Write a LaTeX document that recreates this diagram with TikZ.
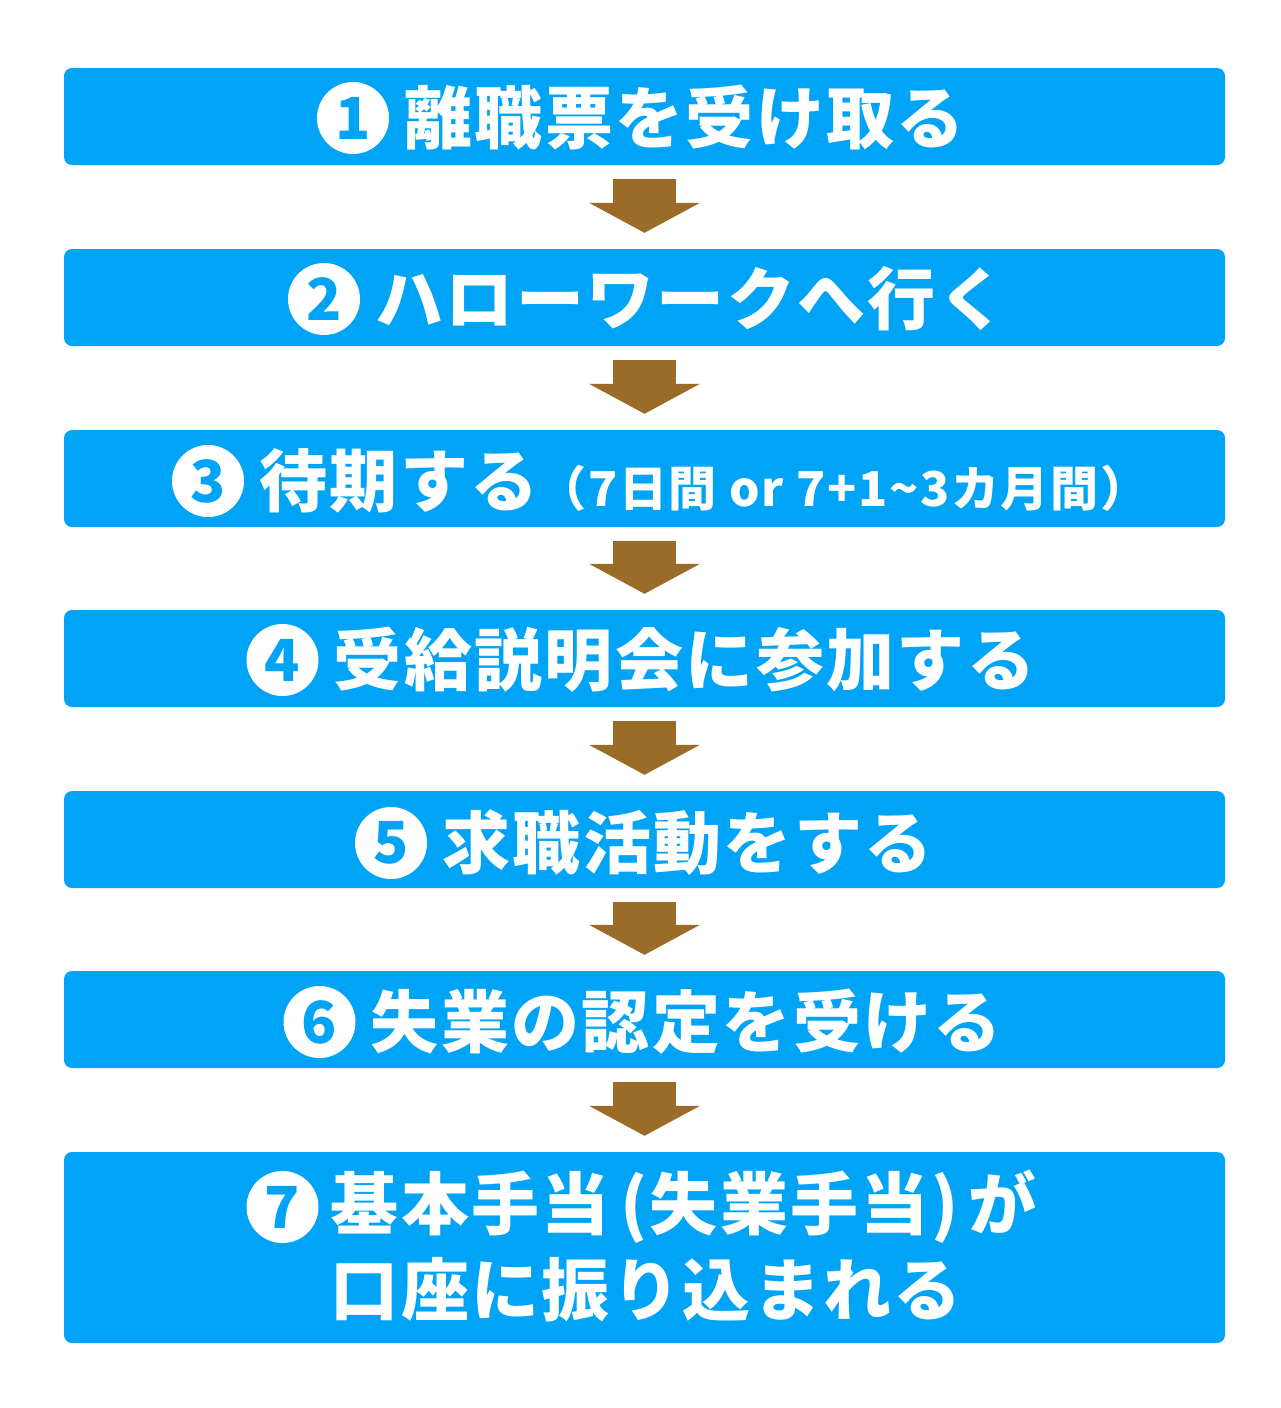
\documentclass[tikz,border=0pt]{standalone}
\usepackage{fontspec}
\setmainfont{Noto Sans CJK JP}
\newfontfamily\stepfont{Noto Sans CJK JP}[LetterSpace=3.5]
\usetikzlibrary{positioning,arrows.meta}

\definecolor{stepblue}{HTML}{00A4F6}
\definecolor{arrowbrown}{HTML}{9A6C28}

\tikzset{
  stepbox/.style={rounded corners=8pt, fill=stepblue, minimum width=1161pt, minimum height=97pt, inner sep=0pt},
  numc/.style={circle, fill=white, minimum size=72pt, inner sep=0pt, text=stepblue, font=\fontsize{58}{58}\selectfont\bfseries},
  steptext/.style={text=white, inner sep=0pt, anchor=west, font=\stepfont\fontsize{68}{68}\selectfont\bfseries},
  downarrow/.style={arrowbrown, line width=63pt, -{Triangle[length=30pt,width=111pt,line width=0pt]}}
}

\begin{document}
\begin{tikzpicture}[x=1pt,y=-1pt]
\useasboundingbox (0,0) rectangle (1280,1408);

\draw (644.5,116.5) node [stepbox] (b1) {};
\draw (644.5,297.5) node [stepbox] (b2) {};
\draw (644.5,478.5) node [stepbox] (b3) {};
\draw (644.5,658.5) node [stepbox] (b4) {};
\draw (644.5,839.5) node [stepbox] (b5) {};
\draw (644.5,1019.5) node [stepbox] (b6) {};
\draw (644.5,1247.5) node [stepbox, minimum height=191pt] (b7) {};

\draw (353,118) node [numc] (n1) {1};
\draw (324,299) node [numc] (n2) {2};
\draw (208,481) node [numc] (n3) {3};
\draw (282.5,660) node [numc] (n4) {4};
\draw (391,843) node [numc] (n5) {5};
\draw (319.5,1022) node [numc] (n6) {6};
\draw (282.5,1207) node [numc] (n7) {7};

\node [steptext, right=15pt of n1] (t1) {離職票を受け取る};
\node [steptext, right=15pt of n2] (t2) {ハローワークへ行く};
\node [steptext, right=15pt of n3] (t3) {待期する{\fontsize{48}{48}\selectfont （7日間 or 7+1\textasciitilde 3カ月間）}};
\node [steptext, right=15pt of n4] (t4) {受給説明会に参加する};
\node [steptext, right=15pt of n5] (t5) {求職活動をする};
\node [steptext, right=15pt of n6] (t6) {失業の認定を受ける};
\node [steptext, right=12pt of n7] (t7) {基本手当\kern10pt(失業手当)\kern10pt が};
\node [steptext] (t7b) at (t7.west |- 0,1290) {口座に振り込まれる};

\draw [downarrow] ([yshift=-14pt]b1.south) -- ([yshift=16pt]b2.north);
\draw [downarrow] ([yshift=-14pt]b2.south) -- ([yshift=16pt]b3.north);
\draw [downarrow] ([yshift=-14pt]b3.south) -- ([yshift=16pt]b4.north);
\draw [downarrow] ([yshift=-14pt]b4.south) -- ([yshift=16pt]b5.north);
\draw [downarrow] ([yshift=-14pt]b5.south) -- ([yshift=16pt]b6.north);
\draw [downarrow] ([yshift=-14pt]b6.south) -- ([yshift=16pt]b7.north);
\end{tikzpicture}
\end{document}
